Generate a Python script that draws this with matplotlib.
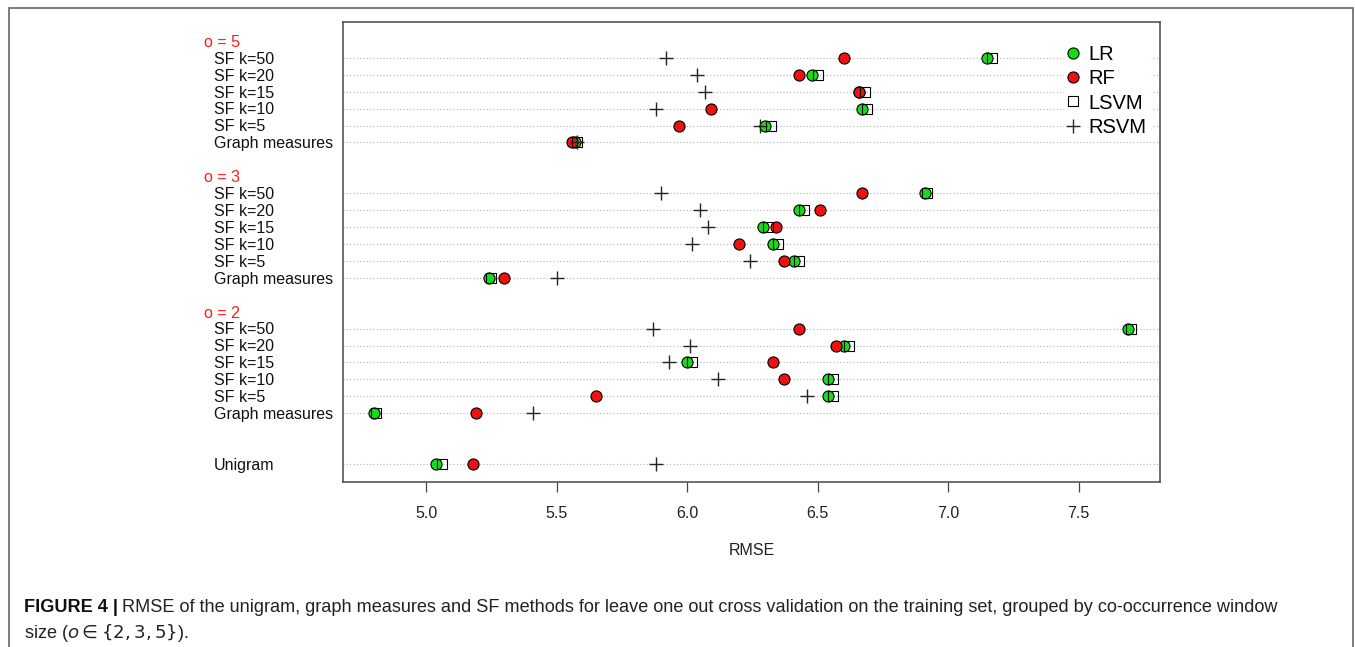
import matplotlib
matplotlib.use("Agg")
import matplotlib.pyplot as plt
from matplotlib.lines import Line2D
from matplotlib.patches import Rectangle
from matplotlib.transforms import blended_transform_factory

plt.rcParams['font.family'] = ['Liberation Sans', 'DejaVu Sans']
plt.rcParams['mathtext.fontset'] = 'dejavusans'

# rows inside each group, bottom to top
row_labels = ["Graph measures", "SF k=5", "SF k=10", "SF k=15", "SF k=20", "SF k=50"]
group_names = ["o = 2", "o = 3", "o = 5"]
methods = ["LR", "RF", "LSVM", "RSVM"]

# RMSE values
o2_lr = [4.80, 6.54, 6.54, 6.00, 6.60, 7.69]
o2_rf = [5.19, 5.65, 6.37, 6.33, 6.57, 6.43]
o2_lsvm = [4.81, 6.56, 6.56, 6.02, 6.62, 7.70]
o2_rsvm = [5.41, 6.46, 6.12, 5.93, 6.01, 5.87]

o3_lr = [5.24, 6.41, 6.33, 6.29, 6.43, 6.91]
o3_rf = [5.30, 6.37, 6.20, 6.34, 6.51, 6.67]
o3_lsvm = [5.25, 6.43, 6.35, 6.31, 6.45, 6.92]
o3_rsvm = [5.50, 6.24, 6.02, 6.08, 6.05, 5.90]

o5_lr = [5.57, 6.30, 6.67, 6.66, 6.48, 7.15]
o5_rf = [5.56, 5.97, 6.09, 6.66, 6.43, 6.60]
o5_lsvm = [5.58, 6.32, 6.69, 6.68, 6.50, 7.17]
o5_rsvm = [5.58, 6.28, 5.88, 6.07, 6.04, 5.92]

unigram = [5.04, 5.18, 5.06, 5.88]  # LR, RF, LSVM, RSVM

groups = [
    [o2_lr, o2_rf, o2_lsvm, o2_rsvm],
    [o3_lr, o3_rf, o3_lsvm, o3_rsvm],
    [o5_lr, o5_rf, o5_lsvm, o5_rsvm],
]

styles = {
    "LR": dict(marker="o", ms=8, mfc="#16dd16", mec="black", mew=0.8),
    "RF": dict(marker="o", ms=8, mfc="#ee1111", mec="black", mew=0.8),
    "LSVM": dict(marker="s", ms=7.2, mfc="none", mec="black", mew=0.8),
    "RSVM": dict(marker="+", ms=10.5, mfc="none", mec="#222222", mew=1.0),
}

W, H = 1355, 647
fig = plt.figure(figsize=(W / 100, H / 100), dpi=100)
ax = fig.add_axes([343 / W, 1 - 482 / H, (1160 - 343) / W, (482 - 22) / H])

# dotchart style row layout: unigram at 1, then groups with label line and gap
data_rows = []
label_rows = []
y = 1
data_rows.append(("Unigram", y, unigram))
y = 4
for gname, g in zip(group_names, groups):
    for i, lab in enumerate(row_labels):
        data_rows.append((lab, y, [g[m][i] for m in range(4)]))
        y += 1
    label_rows.append((gname, y))
    y += 2

for lab, ry, vals in data_rows:
    ax.axhline(ry, color="#b5b5b5", lw=0.8, ls=(0, (1, 2)), zorder=1)

for m_idx, m in enumerate(methods):
    xs = [vals[m_idx] for _, _, vals in data_rows]
    ys = [ry for _, ry, _ in data_rows]
    ax.plot(xs, ys, ls="none", zorder=3 + m_idx, **styles[m])

ax.set_xlim(4.682, 7.812)
ax.set_ylim(-0.065, 27.12)
ax.set_yticks([])
ax.set_xticks([5.0, 5.5, 6.0, 6.5, 7.0, 7.5])
ax.set_xticklabels(["5.0", "5.5", "6.0", "6.5", "7.0", "7.5"])
ax.tick_params(axis="x", length=7.2, width=0.9, color="#444444", pad=10,
               labelsize=11.5, labelcolor="#222222")
for sp in ax.spines.values():
    sp.set_color("#555555")
    sp.set_linewidth(1.2)
ax.set_xlabel("RMSE", fontsize=11.5, color="#222222", labelpad=16)

tr = blended_transform_factory(fig.transFigure, ax.transData)
for lab, ry, _ in data_rows:
    ax.text(214 / W, ry - 0.08, lab, transform=tr, ha="left", va="center",
            fontsize=11.5, color="#111111", clip_on=False)
for gname, ry in label_rows:
    ax.text(204 / W, ry - 0.08, gname, transform=tr, ha="left", va="center",
            fontsize=11.5, color="#ff1a1a", clip_on=False)

handles = [Line2D([], [], ls="none", **styles[m]) for m in methods]
leg = ax.legend(handles, methods, loc="upper left",
                bbox_to_anchor=(1062 / W, 1 - 40 / H), bbox_transform=fig.transFigure,
                fontsize=14.5, frameon=True, fancybox=False, framealpha=1,
                facecolor="white", edgecolor="none", borderpad=0.25,
                borderaxespad=0, handlelength=0.6, handletextpad=0.45,
                labelspacing=0.26)
leg.set_zorder(10)

# outer figure frame
fig.patches.append(Rectangle((9 / W, -0.1), (1353 - 9) / W, 1.1 - 8 / H,
                             transform=fig.transFigure, fill=False,
                             edgecolor="#666666", lw=1.2))

# caption
fig.canvas.draw()
renderer = fig.canvas.get_renderer()
cap_size = 13.1
t1 = fig.text(24 / W, 1 - 608 / H, "FIGURE 4 |", fontsize=cap_size, fontweight="bold",
              va="center", ha="left", color="#111111")
bb = t1.get_window_extent(renderer)
fig.text((bb.x1 + 4) / W, 1 - 608 / H,
         "RMSE of the unigram, graph measures and SF methods for leave one out "
         "cross validation on the training set, grouped by co-occurrence window",
         fontsize=cap_size, va="center", ha="left", color="#222222")
fig.text(24 / W, 1 - 633 / H, r"size ($\mathit{o} \in \{2,3,5\}$).",
         fontsize=cap_size, va="center", ha="left", color="#222222")

fig.savefig("out.png", dpi=100)
